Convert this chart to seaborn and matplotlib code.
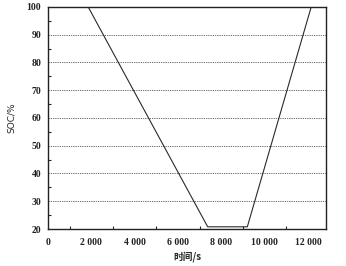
import matplotlib
matplotlib.use("Agg")
import matplotlib.pyplot as plt
import seaborn as sns
import pandas as pd
from matplotlib.ticker import MultipleLocator, FuncFormatter

time_pts = [1850, 7370, 9200, 12150]
soc_pts = [100, 20.8, 20.8, 100]
x_ticks = [0, 2000, 4000, 6000, 8000, 10000, 12000]
y_ticks = [20, 30, 40, 50, 60, 70, 80, 90, 100]

sns.set_theme(style="white")
plt.rcParams['font.family'] = ['Liberation Serif', 'Noto Sans CJK SC', 'DejaVu Sans']

df = pd.DataFrame({"t": time_pts, "soc": soc_pts})

fig = plt.figure(figsize=(3.46, 2.66), dpi=100)
ax = fig.add_axes([0.139, 0.139, 0.803, 0.835])
sns.lineplot(data=df, x="t", y="soc", ax=ax, color="#2a2a2a", linewidth=0.8, sort=False)

ax.set_xlim(0, 12830)
ax.set_ylim(20, 100)
ax.set_xticks(x_ticks)
ax.set_yticks(y_ticks)
ax.xaxis.set_minor_locator(MultipleLocator(1000))
ax.yaxis.set_minor_locator(MultipleLocator(5))
ax.xaxis.set_major_formatter(FuncFormatter(lambda v, p: f"{int(v):,}".replace(",", " ")))
ax.tick_params(axis="both", which="major", direction="out", length=3, width=0.8,
               labelsize=7, colors="#222222", pad=2)
ax.tick_params(axis="both", which="minor", direction="in", length=2.5, width=0.8,
               bottom=True, left=True)
ax.tick_params(axis="x", which="major", direction="inout", length=5, pad=4)
for lbl in ax.get_xticklabels() + ax.get_yticklabels():
    lbl.set_fontweight("bold")

ax.yaxis.grid(True, which="major", linestyle=(0, (1.5, 1.2)), color="#555555", linewidth=0.6)
ax.xaxis.grid(False)
for s in ax.spines.values():
    s.set_color("#222222")
    s.set_linewidth(1.0)
    s.set_visible(True)

ax.set_xlabel("时间/s", fontsize=7, family=['Noto Sans CJK SC', 'DejaVu Sans'],
              fontweight="bold", labelpad=3)
ax.set_ylabel("SOC/%", fontsize=6.5, family=['DejaVu Sans'], labelpad=8)

fig.savefig("out.png", dpi=100)
